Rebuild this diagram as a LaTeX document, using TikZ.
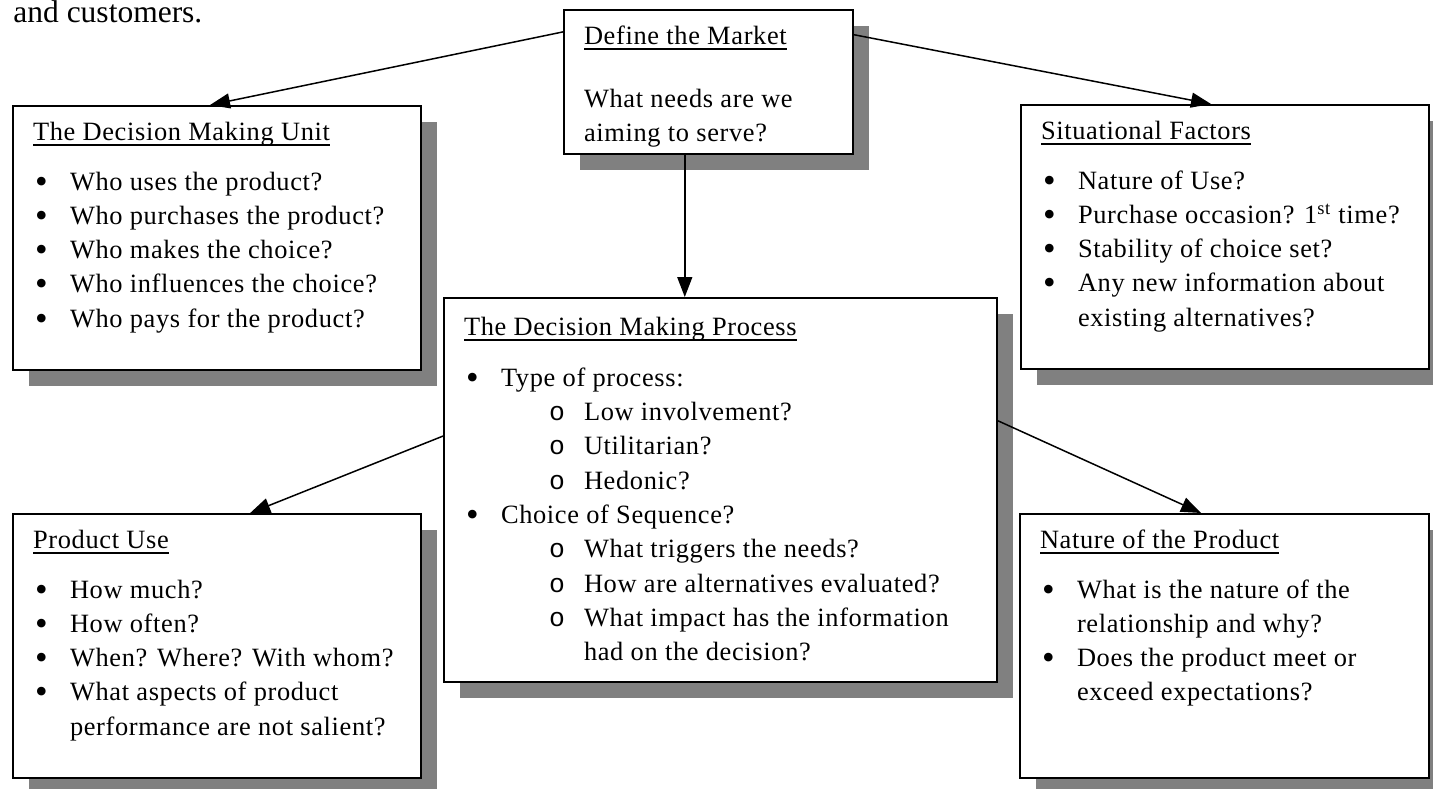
\documentclass[tikz,border=0pt]{standalone}
\usepackage{fontspec}
\setmainfont{Liberation Serif}
\setmonofont{Liberation Mono}
\newfontfamily\cardfont[LetterSpace=2.5]{Liberation Serif}
\usetikzlibrary{arrows.meta,shadows}

\newcommand\boxtitle[2][17pt]{\rule{0pt}{#1}\setbox0\hbox{#2}\rlap{\rule[-2.8pt]{\wd0}{0.8pt}}\box0}
\newcommand\bitem{\hspace*{1pt}\makebox[17.5pt][l]{\raisebox{-1.5pt}{\fontsize{18}{0}\selectfont\textbullet}}}
\newcommand\oitem{\hspace*{42.5pt}\makebox[17.5pt][l]{\texttt{o}}}

\tikzset{
  card/.style={draw,line width=1pt,fill=white,anchor=north west,inner xsep=10pt,inner ysep=0pt,
    drop shadow={shadow xshift=8pt,shadow yshift=-8pt,fill=gray,opacity=1},
    font=\cardfont\fontsize{13.2}{17.15}\selectfont},
  link/.style={line width=.75pt,-{Triangle[length=10pt,width=7.5pt]}}
}

\begin{document}
\begin{tikzpicture}[x=.5pt,y=-.5pt]
  \useasboundingbox (0,0) rectangle (1433,788);

  \node[anchor=base west,inner sep=0pt,font=\fontsize{15.75}{18}\selectfont] (intro) at (13,22) {and customers.};

  \node[card] (market) at (563,9) {\parbox[b][72pt][t]{124.5pt}{\boxtitle{Define the Market}\\[14.35pt]
    What needs are we\\aiming to serve?}};

  \node[card] (dmu) at (12,105) {\parbox[b][132pt][t]{184pt}{\boxtitle{The Decision Making Unit}\\[7.85pt]
    \bitem Who uses the product?\\
    \bitem Who purchases the product?\\
    \bitem Who makes the choice?\\
    \bitem Who influences the choice?\\
    \bitem Who pays for the product?}};

  \node[card] (situation) at (1020,104) {\parbox[b][132pt][t]{184pt}{\boxtitle{Situational Factors}\\[7.85pt]
    \bitem Nature of Use?\\
    \bitem Purchase occasion? 1\textsuperscript{st} time?\\
    \bitem Stability of choice set?\\
    \bitem Any new information about\\
    \hspace*{18.5pt}existing alternatives?}};

  \node[card] (process) at (443,297) {\parbox[b][192pt][t]{256.5pt}{\boxtitle[18.5pt]{The Decision Making Process}\\[8.5pt]
    \bitem Type of process:\\
    \oitem Low involvement?\\
    \oitem Utilitarian?\\
    \oitem Hedonic?\\
    \bitem Choice of Sequence?\\
    \oitem What triggers the needs?\\
    \oitem How are alternatives evaluated?\\
    \oitem What impact has the information\\
    \hspace*{60pt}had on the decision?}};

  \node[card] (use) at (12,513) {\parbox[b][132pt][t]{184pt}{\boxtitle{Product Use}\\[7.85pt]
    \bitem How much?\\
    \bitem How often?\\
    \bitem When? Where? With whom?\\
    \bitem What aspects of product\\
    \hspace*{18.5pt}performance are not salient?}};

  \node[card] (nature) at (1019,513) {\parbox[b][132pt][t]{184.5pt}{\boxtitle{Nature of the Product}\\[7.85pt]
    \bitem What is the nature of the\\
    \hspace*{18.5pt}relationship and why?\\
    \bitem Does the product meet or\\
    \hspace*{18.5pt}exceed expectations?}};

  \draw[link] (market.161.6) -- (dmu.93.9);
  \draw[link] (market.18.4) -- (situation.96.9);
  \draw[link] (market.252) -- (market.252 |- process.north);
  \draw[link] (process.169.5) -- (use.76.4);
  \draw[link] (process.14.4) -- (nature.100.1);
\end{tikzpicture}
\end{document}
